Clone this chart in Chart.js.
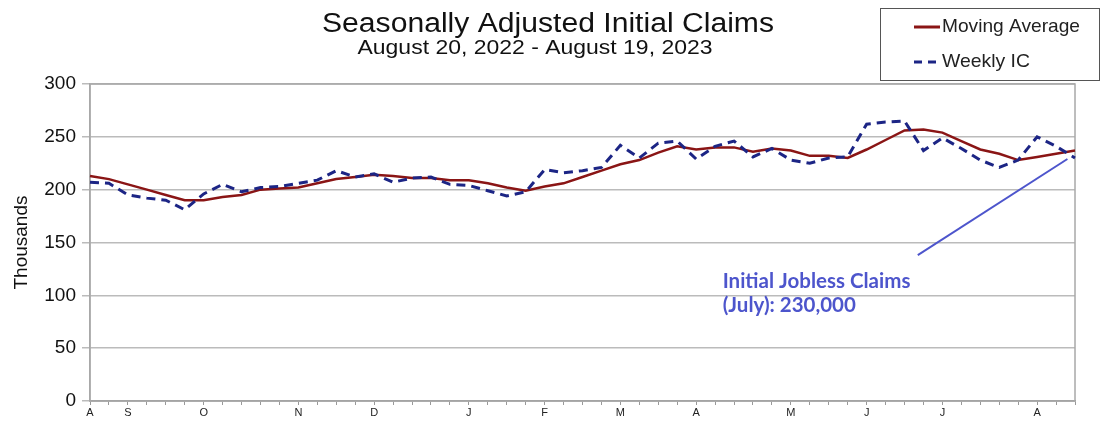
<!DOCTYPE html>
<html lang="en">
  <head>
    <meta charset="UTF-8" />
    <title>Seasonally Adjusted Initial Claims</title>
    <script src="https://cdn.jsdelivr.net/npm/chart.js@4.4.0/dist/chart.umd.min.js"></script>
    <style>
      html, body { margin: 0; padding: 0; background: #fff; }
      #wrap { width: 1103px; height: 421px; position: relative; }
    </style>
  </head>
  <body>
    <div id="wrap"><canvas id="myChart" width="1103" height="421"></canvas></div>

    <script>
      // weekly claims, thousands (week ending Saturday, starting Aug 20 2022)
      const movingAvg = [213, 210, 205, 200, 195, 190, 190, 193, 195, 200, 201, 202, 206, 210, 212, 214, 213, 211, 211, 209, 209, 206, 202, 199, 203, 206, 212, 218, 224, 228, 235, 241, 238, 240, 240, 236, 239, 237, 232, 232, 230, 238, 247, 256, 257, 254, 246, 238, 234, 228, 231, 234, 237];
      const weeklyIC = [207, 206, 195, 192, 190, 181, 196, 205, 198, 202, 203, 206, 209, 218, 212, 215, 207, 211, 212, 205, 204, 199, 194, 198, 219, 216, 218, 221, 242, 230, 244, 246, 229, 241, 246, 231, 239, 228, 225, 230, 231, 262, 264, 265, 237, 249, 239, 228, 221, 228, 250, 241, 230];

      const monthTickWeeks = [0, 2, 6, 11, 15, 20, 24, 28, 32, 37, 41, 45, 50];
      const monthTickLetters = ['A', 'S', 'O', 'N', 'D', 'J', 'F', 'M', 'A', 'M', 'J', 'J', 'A'];

      const yTicks = [0, 50, 100, 150, 200, 250, 300];

      const calloutLines = ['Initial Jobless Claims', '(July): 230,000'];

      const weekLabels = [];
      const start = new Date(2022, 7, 20);
      for (let i = 0; i < movingAvg.length; i++) {
        const d = new Date(start.getTime() + i * 7 * 86400000);
        weekLabels.push(d.toISOString().slice(0, 10));
      }

      const RED = '#8a1515';
      const NAVY = '#1c2585';
      const CALLOUT = '#4d55cc';
      const SANS = '"Liberation Sans", Arial, sans-serif';

      // draw text squeezed to a given width; align is 'center' or 'left'
      function fitText(ctx, text, x, cy, width, align) {
        const w = ctx.measureText(text).width;
        ctx.save();
        ctx.translate(align === 'left' ? x : x - width / 2, cy);
        ctx.scale(width / w, 1);
        ctx.textAlign = 'left';
        ctx.textBaseline = 'middle';
        ctx.fillText(text, 0, 0);
        ctx.restore();
      }

      const decorations = {
        id: 'decorations',
        beforeDatasetsDraw(chart) {
          const { ctx, chartArea: a } = chart;
          ctx.save();
          ctx.strokeStyle = '#a8a8a8';
          ctx.lineWidth = 1.5;
          ctx.strokeRect(a.left, a.top, a.right - a.left, a.bottom - a.top);
          ctx.restore();
        },
        afterDraw(chart) {
          const { ctx } = chart;
          const x = chart.scales.x, y = chart.scales.y;
          ctx.save();

          // titles
          ctx.fillStyle = '#111';
          ctx.font = '27px ' + SANS;
          fitText(ctx, 'Seasonally Adjusted Initial Claims', 548, 25, 452, 'center');
          ctx.font = '21px ' + SANS;
          fitText(ctx, 'August 20, 2022 - August 19, 2023', 535, 48, 355, 'center');

          // legend box
          ctx.strokeStyle = '#555';
          ctx.lineWidth = 1;
          ctx.strokeRect(880.5, 8.5, 219, 72);
          ctx.lineWidth = 3;
          ctx.strokeStyle = RED;
          ctx.beginPath(); ctx.moveTo(914, 27); ctx.lineTo(940, 27); ctx.stroke();
          ctx.strokeStyle = NAVY;
          ctx.setLineDash([8, 6]);
          ctx.beginPath(); ctx.moveTo(914, 62); ctx.lineTo(940, 62); ctx.stroke();
          ctx.setLineDash([]);
          ctx.fillStyle = '#222';
          ctx.font = '19px ' + SANS;
          fitText(ctx, 'Moving Average', 942, 27, 138, 'left');
          fitText(ctx, 'Weekly IC', 942, 62, 88, 'left');

          // callout pointing at the last weekly reading
          ctx.strokeStyle = CALLOUT;
          ctx.lineWidth = 2;
          ctx.beginPath();
          ctx.moveTo(x.getPixelForValue(43.7), y.getPixelForValue(138));
          ctx.lineTo(x.getPixelForValue(51.6), y.getPixelForValue(229));
          ctx.stroke();
          ctx.fillStyle = CALLOUT;
          ctx.font = 'bold 20.5px Lato, "Open Sans", sans-serif';
          ctx.textAlign = 'left';
          ctx.textBaseline = 'middle';
          ctx.fillText(calloutLines[0], x.getPixelForValue(33.4), y.getPixelForValue(113.5));
          ctx.fillText(calloutLines[1], x.getPixelForValue(33.4), y.getPixelForValue(90.8));

          ctx.restore();
        }
      };

      const ctx = document.getElementById('myChart').getContext('2d');
      const myChart = new Chart(ctx, {
        type: 'line',
        data: {
          labels: weekLabels,
          datasets: [
            {
              label: 'Weekly IC',
              data: weeklyIC,
              borderColor: NAVY,
              borderWidth: 3,
              borderDash: [9, 6],
              pointRadius: 0,
              tension: 0,
              fill: false
            },
            {
              label: 'Moving Average',
              data: movingAvg,
              borderColor: RED,
              borderWidth: 2.5,
              pointRadius: 0,
              tension: 0,
              fill: false
            }
          ]
        },
        options: {
          responsive: false,
          animation: false,
          layout: { padding: { top: 84, right: 28, left: 0, bottom: 0 } },
          plugins: {
            legend: { display: false },
            tooltip: { enabled: false }
          },
          scales: {
            x: {
              type: 'category',
              offset: false,
              afterFit: s => { s.height = 20; },
              grid: {
                drawOnChartArea: false,
                drawTicks: true,
                tickLength: 4,
                color: '#999'
              },
              border: { color: '#999', width: 1.5 },
              ticks: {
                autoSkip: false,
                maxRotation: 0,
                padding: 1,
                color: '#222',
                font: { family: SANS, size: 11 },
                callback: (val, i) => {
                  const k = monthTickWeeks.indexOf(i);
                  return k >= 0 ? monthTickLetters[k] : '';
                }
              }
            },
            y: {
              min: 0,
              max: 300,
              afterFit: s => { s.width = 90; },
              afterBuildTicks: s => { s.ticks = yTicks.map(v => ({ value: v })); },
              grid: { color: '#bbbbbb', lineWidth: 1.5, tickLength: 8 },
              border: { color: '#a8a8a8', width: 1.5 },
              ticks: {
                padding: 6,
                color: '#111',
                font: { family: SANS, size: 19 }
              },
              title: {
                display: true,
                text: 'Thousands',
                color: '#111',
                padding: { top: 10, bottom: 0 },
                font: { family: SANS, size: 19 }
              }
            }
          }
        },
        plugins: [decorations]
      });
    </script>
  </body>
</html>
